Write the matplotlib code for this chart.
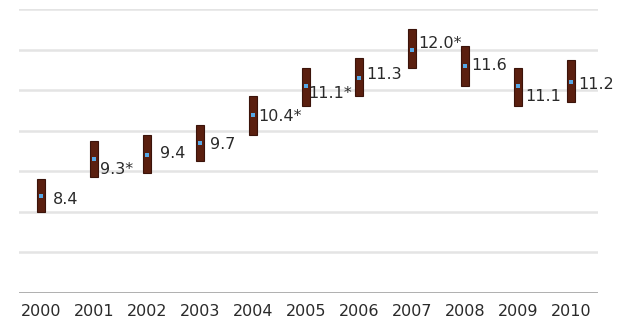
import matplotlib
matplotlib.use("Agg")
import matplotlib.pyplot as plt
import numpy as np

# Annual estimates with 95% confidence limits
years = ["2000", "2001", "2002", "2003", "2004", "2005",
         "2006", "2007", "2008", "2009", "2010"]
estimate = [8.4, 9.3, 9.4, 9.7, 10.4, 11.1, 11.3, 12.0, 11.6, 11.1, 11.2]
lower = [8.0, 8.85, 8.95, 9.25, 9.9, 10.6, 10.85, 11.55, 11.1, 10.6, 10.7]
upper = [8.8, 9.75, 9.9, 10.15, 10.85, 11.55, 11.8, 12.5, 12.1, 11.55, 11.75]
value_labels = ["8.4", "9.3*", "9.4", "9.7", "10.4*", "11.1*",
                "11.3", "12.0*", "11.6", "11.1", "11.2"]

# label nudges in pixels (dx, dy) to keep text clear of neighbouring bars
nudge_x = [12, 6, 13, 10, 5, 2, 7, 6, 6, 7, 7]
nudge_y = [-4, -10, 2, -2, -2, -7, 4, 6, 0, -10, -2]

fig = plt.figure(figsize=(6.19, 3.24), dpi=100)
ax = fig.add_axes([0.031, 0.0957, 0.935, 0.876])

x = np.arange(len(years))
lo = np.array(lower)
hi = np.array(upper)

ax.set_ylim(6, 13)
ax.set_xlim(-0.41, 10.5)

for yv in range(7, 14):
    ax.axhline(yv, color="#e4e4e4", lw=1.8, zorder=0)
ax.axhline(6, color="#a8a8a8", lw=2.0, zorder=1)

ax.bar(x, hi - lo, bottom=lo, width=0.15, color="#5a1f0f",
       edgecolor="#3b130a", linewidth=0.8, zorder=2)
ax.scatter(x, estimate, marker="s", s=5, color="#56a8e6", zorder=3,
           linewidths=0)

for xi, v, lab, dx, dy in zip(x, estimate, value_labels, nudge_x, nudge_y):
    ax.annotate(lab, (xi, v), xytext=(dx, dy), textcoords="offset pixels",
                ha="left", va="center", fontsize=11.5, color="#2a2a2a",
                zorder=4)

ax.set_xticks(x)
ax.set_xticklabels(years, fontsize=11.5, color="#2a2a2a")
ax.tick_params(axis="x", length=0, pad=8)
ax.set_yticks([])
for s in ax.spines.values():
    s.set_visible(False)

fig.savefig("out.png", dpi=100, facecolor="white")
